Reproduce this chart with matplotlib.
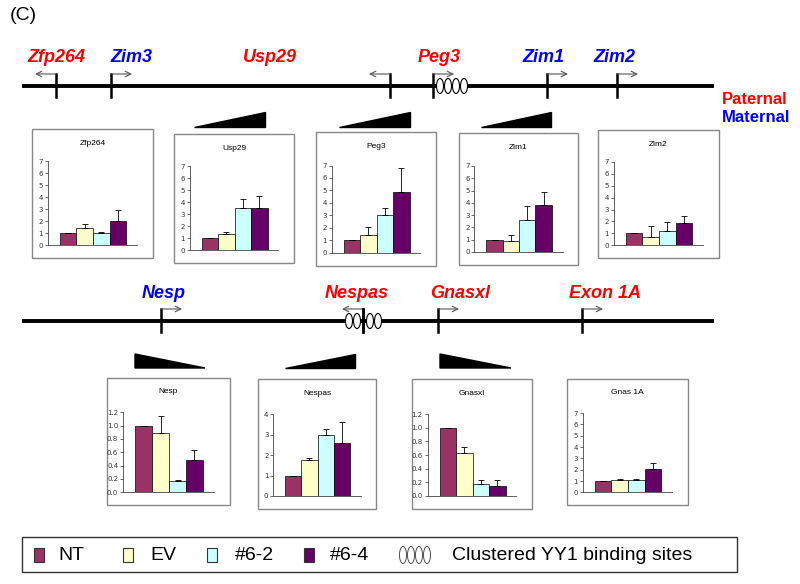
import numpy as np
import matplotlib.pyplot as plt
from matplotlib.patches import Rectangle, Ellipse, Polygon

W, H = 800, 584

# ---- data --------------------------------------------------------------
groups = ['NT', 'EV', '#6-2', '#6-4']
colors = ['#993366', '#FFFFCC', '#CCFFFF', '#660066']

genes = ['Zfp264', 'Usp29', 'Peg3', 'Zim1', 'Zim2',
         'Nesp', 'Nespas', 'Gnasxl', 'Gnas 1A']
values = [
    [1.0, 1.40, 1.05, 2.05],
    [1.0, 1.35, 3.50, 3.50],
    [1.0, 1.45, 3.05, 4.90],
    [1.0, 0.85, 2.60, 3.80],
    [1.0, 0.70, 1.20, 1.85],
    [1.0, 0.89, 0.17, 0.48],
    [1.0, 1.75, 3.00, 2.60],
    [1.0, 0.63, 0.17, 0.15],
    [1.0, 1.10, 1.10, 2.10],
]
errors = [
    [0.0, 0.35, 0.08, 0.85],
    [0.0, 0.20, 0.75, 1.05],
    [0.0, 0.60, 0.55, 1.90],
    [0.0, 0.50, 1.15, 1.10],
    [0.0, 0.90, 0.75, 0.60],
    [0.0, 0.25, 0.01, 0.16],
    [0.0, 0.12, 0.28, 1.00],
    [0.0, 0.09, 0.06, 0.08],
    [0.0, 0.05, 0.05, 0.45],
]
ymax = [7, 7, 7, 7, 7, 1.2, 4, 1.2, 7]

top_genes = ['Zfp264', 'Zim3', 'Usp29', 'Peg3', 'Zim1', 'Zim2']
top_ticks = [56, 111, 390, 433, 547, 617]
top_label_x = [56, 131, 270, 439, 543, 614]
top_color = ['red', 'blue', 'red', 'red', 'blue', 'blue']
top_dir = [-1, 1, -1, 1, 1, 1]

bot_genes = ['Nesp', 'Nespas', 'Gnasxl', 'Exon 1A']
bot_ticks = [161, 363, 438, 582]
bot_label_x = [164, 357, 460, 605]
bot_color = ['blue', 'red', 'red', 'red']
bot_dir = [1, -1, 1, 1]

# ---- layout (pixels) ---------------------------------------------------
boxes = [(32, 129, 153, 258), (174, 134, 294, 263), (316, 132, 436, 266),
         (459, 133, 578, 265), (598, 130, 719, 258),
         (107, 378, 230, 505), (258, 379, 376, 509), (412, 379, 532, 509),
         (567, 379, 688, 505)]

fig = plt.figure(figsize=(8, 5.84), dpi=100)
ax0 = fig.add_axes([0, 0, 1, 1])
ax0.set_xlim(0, W)
ax0.set_ylim(H, 0)
ax0.axis('off')

narrow = ['Liberation Sans Narrow', 'Liberation Sans', 'DejaVu Sans']
sans = ['Liberation Sans', 'DejaVu Sans']

ax0.text(10, 16, '(C)', fontsize=14, family=sans, va='center')


def chromosome(y, ticks, names, lx, cols, dirs):
    ax0.plot([22, 714], [y, y], color='black', lw=2.8, solid_capstyle='butt')
    for t, n, x, c, d in zip(ticks, names, lx, cols, dirs):
        ax0.plot([t, t], [y - 12, y + 11], color='black', lw=1.8)
        ax0.annotate('', xy=(t + d * 21, y - 12), xytext=(t, y - 12),
                     arrowprops=dict(arrowstyle='->', color='#555555',
                                     lw=0.8, shrinkA=0, shrinkB=0))
        ax0.text(x, y - 28, n, color=c, fontsize=13, fontweight='bold',
                 style='italic', family=narrow, ha='center', va='center')


def ovals(xs, y):
    for x in xs:
        ax0.add_patch(Ellipse((x, y), 7, 15, facecolor='white',
                              edgecolor='black', lw=0.8, zorder=5))


chromosome(86, top_ticks, top_genes, top_label_x, top_color, top_dir)
ovals([440, 448, 456, 464], 86)
ax0.text(722, 99, 'Paternal', color='red', fontsize=12, fontweight='bold',
         family=narrow, va='center')
ax0.text(722, 117, 'Maternal', color='blue', fontsize=12, fontweight='bold',
         family=narrow, va='center')

chromosome(321, bot_ticks, bot_genes, bot_label_x, bot_color, bot_dir)
ovals([349, 357, 370, 378], 321)
ax0.plot([363, 363], [309, 332], color='black', lw=1.8, zorder=6)

# bar charts
for i, g in enumerate(genes):
    bx0, by0, bx1, by1 = boxes[i]
    bw, bh = bx1 - bx0, by1 - by0
    ax0.add_patch(Rectangle((bx0, by0), bw, bh,
                            facecolor='white', edgecolor='#888888', lw=1))
    a0, a1 = bx0 + 0.13 * bw, bx0 + 0.87 * bw
    yz = by0 + 0.9 * bh
    ym = by0 + (0.25 if i < 5 else 0.27) * bh
    p0, p1 = bx0 + 0.23 * bw, bx0 + 0.78 * bw
    unit = (p1 - p0) / 4
    ax = fig.add_axes([a0 / W, 1 - yz / H, (a1 - a0) / W, (yz - ym) / H])
    ax.set_facecolor('none')
    x = np.arange(4)
    ax.bar(x, values[i], width=1.0, color=colors, edgecolor='black', lw=0.5)
    ax.errorbar(x, values[i], yerr=[np.zeros(4), errors[i]], fmt='none',
                ecolor='black', elinewidth=0.6, capsize=2, capthick=0.6)
    ax.set_xlim(-0.5 - (p0 - a0) / unit, 3.5 + (a1 - p1) / unit)
    ax.set_ylim(0, ymax[i])
    if ymax[i] < 2:
        tk = np.arange(0, 1.21, 0.2)
        ax.set_yticks(tk)
        ax.set_yticklabels(['%.1f' % v for v in tk])
    else:
        ax.set_yticks(np.arange(0, ymax[i] + 1))
    ax.set_xticks([])
    for s in ['top', 'right']:
        ax.spines[s].set_visible(False)
    for s in ['left', 'bottom']:
        ax.spines[s].set_linewidth(0.6)
        ax.spines[s].set_color('#444444')
    ax.tick_params(axis='y', labelsize=5, length=2, width=0.5, pad=1.5,
                   colors='#333333')
    ax0.text((a0 + a1) / 2, by0 + 0.11 * bh, g, fontsize=6, family=sans,
             ha='center', va='center')

# wedges: (x0, x1, y_base, height, increasing)
wedges = [(194, 265, 127, 15, True), (339, 410, 127, 15, True),
          (481, 551, 127, 15, True),
          (135, 205, 368, 14, False), (285, 355, 368, 14, True),
          (440, 511, 368, 14, False)]
for x0, x1, yb, h, inc in wedges:
    if inc:
        pts = [(x0, yb), (x1, yb), (x1, yb - h)]
    else:
        pts = [(x0, yb), (x1, yb), (x0, yb - h)]
    ax0.add_patch(Polygon(pts, closed=True, facecolor='black',
                          edgecolor='black', zorder=4))

# legend
ax0.add_patch(Rectangle((22, 537), 715, 35, facecolor='white',
                        edgecolor='#333333', lw=1))
leg_sq = [34, 123, 207, 304]
leg_tx = [58, 150, 235, 330]
for sx, tx, lab, c in zip(leg_sq, leg_tx, groups, colors):
    ax0.add_patch(Rectangle((sx, 548), 10, 14, facecolor=c,
                            edgecolor='#333333', lw=0.8))
    ax0.text(tx, 555, lab, fontsize=14, family=sans, va='center')
for ex in [403, 411, 419, 427]:
    ax0.add_patch(Ellipse((ex, 555), 7, 17, facecolor='white',
                          edgecolor='#333333', lw=0.6))
ax0.text(452, 555, 'Clustered YY1 binding sites', fontsize=14, family=sans,
         va='center')

fig.savefig('out.png', dpi=100)
